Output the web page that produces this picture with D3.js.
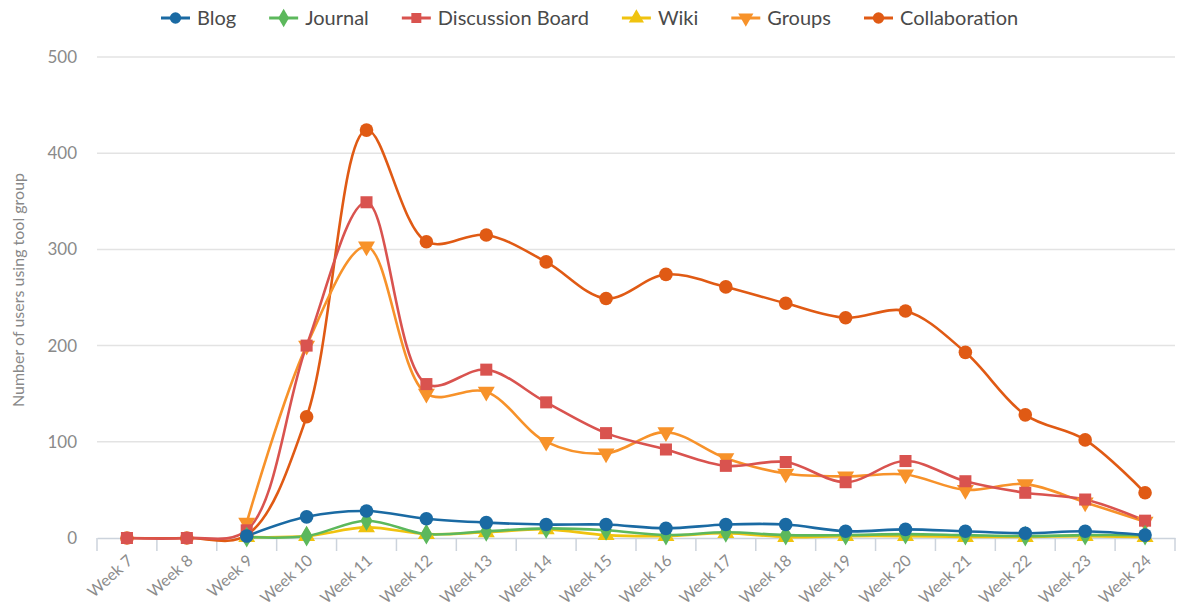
<!DOCTYPE html>
<html>
<head>
<meta charset="utf-8">
<script src="https://cdn.jsdelivr.net/npm/d3@7"></script>
<style>
  body { margin: 0; background: #fff; font-family: Lato, "Open Sans", sans-serif; }
  .grid line { stroke: #e3e3e3; stroke-width: 1.5; }
  .tick text { fill: #8c8c8c; }
</style>
</head>
<body>
<div id="chart"></div>
<script>
// chart data
var weeks = ["Week 7", "Week 8", "Week 9", "Week 10", "Week 11", "Week 12", "Week 13", "Week 14", "Week 15",
  "Week 16", "Week 17", "Week 18", "Week 19", "Week 20", "Week 21", "Week 22", "Week 23", "Week 24"]

var blog = [null, null, 2, 22, 28, 20, 16, 14, 14, 10, 14, 14, 7, 9, 7, 5, 7, 3]
var journal = [null, null, 1, 2, 18, 4, 7, 10, 8, 3, 6, 3, 3, 4, 3, 2, 3, 3]
var discussion = [0, 0, 8, 200, 349, 160, 175, 141, 109, 92, 75, 79, 58, 80, 59, 47, 40, 18]
var wiki = [null, null, 1, 2, 11, 4, 6, 9, 3, 2, 5, 1, 2, 2, 1, 1, 2, 1]
var groups = [null, null, 16, 200, 303, 150, 152, 100, 88, 110, 83, 67, 64, 66, 50, 56, 37, 17]
var collaboration = [0, 0, 3, 126, 424, 308, 315, 287, 249, 274, 261, 244, 229, 236, 193, 128, 102, 47]

var y_ticks = [0, 100, 200, 300, 400, 500]

var series = [
  { name: "Blog", values: blog, color: "#1a6aa3", symbol: d3.symbolCircle },
  { name: "Journal", values: journal, color: "#5cb85c", symbol: d3.symbolDiamond },
  { name: "Discussion Board", values: discussion, color: "#d9534f", symbol: d3.symbolSquare },
  { name: "Wiki", values: wiki, color: "#f0c30f", symbol: d3.symbolTriangle },
  { name: "Groups", values: groups, color: "#f7922a", symbol: "down" },
  { name: "Collaboration", values: collaboration, color: "#e05a14", symbol: d3.symbolCircle }
]

var svg_width = 1180
var svg_height = 615

var svg = d3.select("#chart")
  .append("svg")
  .attr("width", svg_width)
  .attr("height", svg_height)

var x_scale = d3.scaleBand()
  .domain(weeks)
  .range([97, 1175])

var y_scale = d3.scaleLinear()
  .domain([0, 500])
  .range([538, 57])

// gridlines
svg.append("g")
  .attr("class", "grid")
  .selectAll("line")
  .data(y_ticks.filter(d => d > 0))
  .enter()
  .append("line")
  .attr("x1", 97)
  .attr("x2", 1175)
  .attr("y1", d => y_scale(d))
  .attr("y2", d => y_scale(d))

// y axis labels
svg.append("g")
  .selectAll("text")
  .data(y_ticks)
  .enter()
  .append("text")
  .attr("x", 77)
  .attr("y", d => y_scale(d))
  .attr("dy", "0.35em")
  .attr("text-anchor", "end")
  .style("font-size", "17px")
  .style("fill", "#8a8a8a")
  .text(d => d)

svg.append("text")
  .attr("transform", "translate(24, 290) rotate(-90)")
  .attr("text-anchor", "middle")
  .style("font-size", "16px")
  .style("fill", "#888")
  .text("Number of users using tool group")

// x axis
var bottom_axis = d3.axisBottom(x_scale).tickSize(0).tickPadding(0)
var x_axis = svg.append("g")
  .attr("transform", "translate(0, 538)")
  .call(bottom_axis)
x_axis.select(".domain").attr("stroke", "#ccd3dc").attr("stroke-width", 1.5)

x_axis.selectAll(".tick text")
  .attr("text-anchor", "end")
  .attr("dy", null)
  .attr("transform", "translate(7, 24) rotate(-42)")
  .style("font-size", "16px")
  .style("font-family", "Lato, sans-serif")

// band-boundary ticks
var bounds = weeks.map(w => x_scale(w)).concat([x_scale.range()[1]])
x_axis.selectAll(".btick")
  .data(bounds)
  .enter()
  .append("line")
  .attr("x1", d => d)
  .attr("x2", d => d)
  .attr("y1", 0)
  .attr("y2", 13)
  .attr("stroke", "#ccd3dc")
  .attr("stroke-width", 1.5)

function xPos(i) { return x_scale(weeks[i]) + x_scale.bandwidth() / 2 }

function symbolPath(sym, size) {
  if (sym === "down") {
    return d3.symbol(d3.symbolTriangle, size)()
  }
  return d3.symbol(sym, size)()
}

var line = d3.line()
  .defined(d => d.v != null)
  .x(d => xPos(d.i))
  .y(d => y_scale(d.v))
  .curve(d3.curveCatmullRom.alpha(0.5))

// draw in reverse so first series sits on top
var ordered = series.slice().reverse()

ordered.forEach(function(s) {
  var pts = s.values.map((v, i) => ({ v: v, i: i }))
  svg.append("path")
    .datum(pts)
    .attr("fill", "none")
    .attr("stroke", s.color)
    .attr("stroke-width", 2.6)
    .attr("d", line)
})

ordered.forEach(function(s) {
  var pts = s.values.map((v, i) => ({ v: v, i: i })).filter(d => d.v != null)
  var size = s.symbol === d3.symbolCircle ? 145 : (s.symbol === d3.symbolSquare ? 145 : 125)
  svg.append("g")
    .selectAll("path")
    .data(pts)
    .enter()
    .append("path")
    .attr("d", symbolPath(s.symbol, size))
    .attr("transform", d => `translate(${xPos(d.i)}, ${y_scale(d.v)})` + (s.symbol === "down" ? " rotate(180)" : ""))
    .attr("fill", s.color)
})

// legend
var legend = svg.append("g")
var lx = 161
series.forEach(function(s) {
  var item = legend.append("g").attr("transform", `translate(${lx}, 18)`)
  item.append("line")
    .attr("x1", 0).attr("x2", 29)
    .attr("stroke", s.color)
    .attr("stroke-width", 3)
  item.append("path")
    .attr("d", symbolPath(s.symbol, 100))
    .attr("transform", "translate(14.5, 0)" + (s.symbol === "down" ? " rotate(180)" : ""))
    .attr("fill", s.color)
  var t = item.append("text")
    .attr("x", 36)
    .attr("dy", "0.35em")
    .style("font-size", "20px")
    .style("fill", "#4a4a4a")
    .text(s.name)
  lx += 36 + t.node().getComputedTextLength() + 33
})
</script>
</body>
</html>
